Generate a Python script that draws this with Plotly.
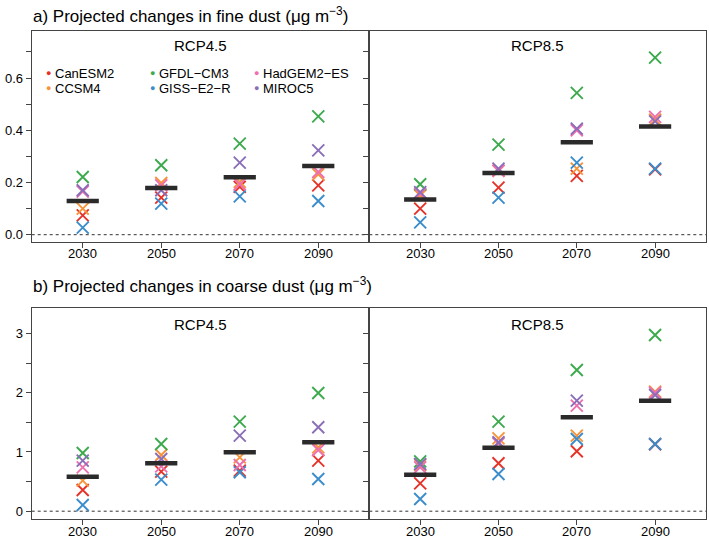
import plotly.graph_objects as go

years = [2030, 2050, 2070, 2090]
year_labels = ["2030", "2050", "2070", "2090"]
models = ["CanESM2", "CCSM4", "GFDL−CM3", "GISS−E2−R", "HadGEM2−ES", "MIROC5"]
colors = ["#E6332A", "#F7943A", "#3DAA4E", "#3B8DCB", "#EE6FAE", "#8A6FB8"]

# fine dust, RCP4.5 (per model, per year)
fine45_CanESM2 = [0.074, 0.142, 0.183, 0.189]
fine45_CCSM4 = [0.100, 0.198, 0.202, 0.231]
fine45_GFDL = [0.221, 0.266, 0.349, 0.453]
fine45_GISS = [0.027, 0.119, 0.147, 0.129]
fine45_HadGEM2 = [0.165, 0.189, 0.193, 0.240]
fine45_MIROC5 = [0.170, 0.170, 0.276, 0.323]
fine45_mean = [0.129, 0.179, 0.220, 0.263]

# fine dust, RCP8.5
fine85_CanESM2 = [0.100, 0.180, 0.225, 0.250]
fine85_CCSM4 = [0.150, 0.245, 0.253, 0.440]
fine85_GFDL = [0.193, 0.345, 0.543, 0.678]
fine85_GISS = [0.047, 0.142, 0.276, 0.253]
fine85_HadGEM2 = [0.157, 0.245, 0.400, 0.451]
fine85_MIROC5 = [0.163, 0.253, 0.406, 0.434]
fine85_mean = [0.135, 0.236, 0.354, 0.414]

# coarse dust, RCP4.5
coarse45_CanESM2 = [0.358, 0.667, 0.684, 0.853]
coarse45_CCSM4 = [0.515, 0.949, 0.910, 1.079]
coarse45_GFDL = [0.983, 1.135, 1.512, 1.997]
coarse45_GISS = [0.105, 0.532, 0.657, 0.544]
coarse45_HadGEM2 = [0.741, 0.758, 0.780, 1.034]
coarse45_MIROC5 = [0.853, 0.882, 1.275, 1.417]
coarse45_mean = [0.583, 0.809, 0.995, 1.164]

# coarse dust, RCP8.5
coarse85_CanESM2 = [0.471, 0.809, 1.012, 1.130]
coarse85_CCSM4 = [0.780, 1.231, 1.275, 2.019]
coarse85_GFDL = [0.842, 1.512, 2.385, 2.976]
coarse85_GISS = [0.206, 0.628, 1.220, 1.135]
coarse85_HadGEM2 = [0.741, 1.140, 1.782, 2.000]
coarse85_MIROC5 = [0.797, 1.164, 1.867, 1.963]
coarse85_mean = [0.617, 1.073, 1.586, 1.867]

panels = [
    ("x", "y", [fine45_CanESM2, fine45_CCSM4, fine45_GFDL, fine45_GISS, fine45_HadGEM2, fine45_MIROC5], fine45_mean),
    ("x2", "y2", [fine85_CanESM2, fine85_CCSM4, fine85_GFDL, fine85_GISS, fine85_HadGEM2, fine85_MIROC5], fine85_mean),
    ("x3", "y3", [coarse45_CanESM2, coarse45_CCSM4, coarse45_GFDL, coarse45_GISS, coarse45_HadGEM2, coarse45_MIROC5], coarse45_mean),
    ("x4", "y4", [coarse85_CanESM2, coarse85_CCSM4, coarse85_GFDL, coarse85_GISS, coarse85_HadGEM2, coarse85_MIROC5], coarse85_mean),
]

W, H = 709, 540
FONT = "Liberation Sans, Arial, Helvetica, sans-serif"
AXC = "#444444"

fig = go.Figure()
for xa, ya, series, mean in panels:
    for name, col, vals in zip(models, colors, series):
        fig.add_trace(go.Scatter(
            x=years, y=vals, mode="markers", name=name, showlegend=False,
            xaxis=xa, yaxis=ya,
            marker=dict(symbol="x-thin", size=12, color=col, line=dict(width=1.9, color=col)),
        ))
    fig.add_trace(go.Scatter(
        x=years, y=mean, mode="markers", showlegend=False, xaxis=xa, yaxis=ya,
        marker=dict(symbol="line-ew", size=23, color="#2a2a2a", line=dict(width=4.5, color="#2a2a2a")),
    ))

def px(v):
    return v / W

def py(v):
    return 1 - v / H

A_TOP, A_BOT = 31, 242
B_TOP, B_BOT = 308, 519
xdom_l = [px(31.7), px(369.3)]
xdom_r = [px(369.3), px(706)]
ydom_a = [py(A_BOT), py(A_TOP)]
ydom_b = [py(B_BOT), py(B_TOP)]

common_x = dict(range=[2017, 2103], tickvals=years, showticklabels=False,
                ticks="outside", ticklen=5, tickcolor=AXC, showline=True, linecolor=AXC,
                linewidth=1, mirror=True, showgrid=False, zeroline=False)

common_y = dict(ticks="outside", ticklen=5, tickcolor=AXC, showline=True, linecolor=AXC,
                linewidth=1, mirror=True, showgrid=False, zeroline=False,
                tickfont=dict(size=13, color="black", family=FONT))

fine_y = dict(range=[-0.028, 0.78], tick0=0, dtick=0.2, tickformat=".1f",
              minor=dict(tick0=0, dtick=0.1, ticks="outside", ticklen=5, tickcolor=AXC, showgrid=False))
coarse_y = dict(range=[-0.132, 3.432], tick0=0, dtick=1, tickformat="d",
                minor=dict(tick0=0, dtick=0.5, ticks="outside", ticklen=5, tickcolor=AXC, showgrid=False))

fig.update_layout(
    width=W, height=H, margin=dict(l=0, r=0, t=0, b=0),
    paper_bgcolor="white", plot_bgcolor="white",
    font=dict(family=FONT, color="black"),
    hovermode=False,
    xaxis=dict(domain=xdom_l, anchor="y", **common_x),
    xaxis2=dict(domain=xdom_r, anchor="y2", **common_x),
    xaxis3=dict(domain=xdom_l, anchor="y3", **common_x),
    xaxis4=dict(domain=xdom_r, anchor="y4", **common_x),
    yaxis=dict(domain=ydom_a, anchor="x", **fine_y, **common_y),
    yaxis2=dict(domain=ydom_a, anchor="x2", showticklabels=False, **fine_y, **common_y),
    yaxis3=dict(domain=ydom_b, anchor="x3", **coarse_y, **common_y),
    yaxis4=dict(domain=ydom_b, anchor="x4", showticklabels=False, **coarse_y, **common_y),
)

# zero reference lines
for xa, ya in [("x", "y"), ("x2", "y2"), ("x3", "y3"), ("x4", "y4")]:
    fig.add_shape(type="line", xref=f"{xa} domain", yref=ya, x0=0, x1=1, y0=0, y1=0,
                  line=dict(color="#333333", width=1, dash="3px,3px"), layer="below")

ann = []
# x tick labels placed just under each panel
for xa, bot in [("x", A_BOT), ("x2", A_BOT), ("x3", B_BOT), ("x4", B_BOT)]:
    for yv, lab in zip(years, year_labels):
        ann.append(dict(text=lab, x=yv, y=py(bot + 12), xref=xa, yref="paper",
                        xanchor="center", yanchor="middle", showarrow=False,
                        font=dict(size=13, family=FONT, color="black")))

ann.append(dict(text="a) Projected changes in fine dust (μg m<sup>−3</sup>)", x=px(31), y=py(15),
                xref="paper", yref="paper", xanchor="left", yanchor="middle", showarrow=False,
                font=dict(size=17, family=FONT)))
ann.append(dict(text="b) Projected changes in coarse dust (μg m<sup>−3</sup>)", x=px(31), y=py(285),
                xref="paper", yref="paper", xanchor="left", yanchor="middle", showarrow=False,
                font=dict(size=17, family=FONT)))
for cx, cy, t in [(200.5, 45, "RCP4.5"), (537.6, 45, "RCP8.5"), (200.5, 324, "RCP4.5"), (537.6, 324, "RCP8.5")]:
    ann.append(dict(text=t, x=px(cx), y=py(cy), xref="paper", yref="paper", xanchor="center",
                    yanchor="middle", showarrow=False, font=dict(size=15, family=FONT)))

# legend (manual, 3 columns x 2 rows)
leg_x = [48, 48, 152, 152, 256, 256]
leg_y = [73, 88, 73, 88, 73, 88]
for i in range(len(models)):
    ann.append(dict(text="●", x=px(leg_x[i]), y=py(leg_y[i]), xref="paper", yref="paper",
                    xanchor="center", yanchor="middle", showarrow=False,
                    font=dict(size=9, color=colors[i], family=FONT)))
    ann.append(dict(text=models[i], x=px(leg_x[i] + 5), y=py(leg_y[i]), xref="paper", yref="paper",
                    xanchor="left", yanchor="middle", showarrow=False,
                    font=dict(size=13, family=FONT)))
fig.update_layout(annotations=ann)

fig.write_html("out.html", config={"displayModeBar": False, "staticPlot": True},
               post_script="document.body.style.margin='0px';document.body.style.overflow='hidden';")
